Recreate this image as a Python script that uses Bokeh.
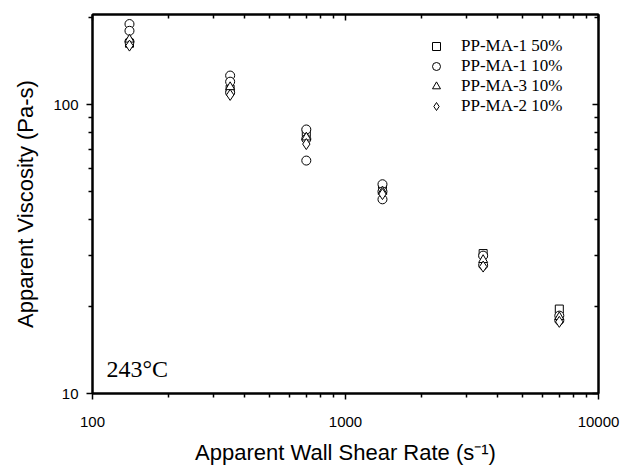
from bokeh.plotting import figure
from bokeh.models import Range1d, FixedTicker, LogAxis, Legend, LegendItem, Label
from bokeh.embed import file_html
from bokeh.resources import INLINE

# ---- data ----
sq_x = [140, 350, 700, 1400, 3500, 7000]
sq_y = [163, 113, 80, 51, 30.5, 19.6]

ci_x = [140, 140, 140, 350, 350, 350, 700, 700, 700, 1400, 1400, 1400, 3500, 3500, 7000, 7000]
ci_y = [190, 180, 165, 126, 120, 110, 82, 76, 64, 53, 50, 47, 30, 27.8, 18.6, 17.9]

tr_x = [140, 350, 700, 1400, 3500, 7000]
tr_y = [168, 115, 77, 50, 29, 18.4]

di_x = [140, 350, 700, 1400, 3500, 7000]
di_y = [160, 108, 73, 49, 27.5, 17.7]

labels = ["PP-MA-1 50%", "PP-MA-1 10%", "PP-MA-3 10%", "PP-MA-2 10%"]
x_major = [100, 1000, 10000]
x_minor = [200, 300, 400, 500, 600, 700, 800, 900, 2000, 3000, 4000, 5000, 6000, 7000, 8000, 9000]
y_major = [10, 100]
y_minor = [20, 30, 40, 50, 60, 70, 80, 90, 200]

p = figure(width=624, height=467, x_axis_type="log", y_axis_type="log",
           x_range=Range1d(100, 10000), y_range=Range1d(10, 205),
           output_backend="svg", toolbar_location=None,
           min_border_left=92, min_border_right=26, min_border_top=14, min_border_bottom=73)
p.grid.visible = False
p.outline_line_color = "black"
p.outline_line_width = 2
p.background_fill_color = "white"
p.border_fill_color = "white"

def style_axis(ax, ticks, minor, show_labels=True, inward=False, standoff=8):
    ax.ticker = FixedTicker(ticks=ticks, minor_ticks=minor)
    ax.axis_line_color = "black"
    ax.axis_line_width = 2
    ax.major_tick_line_width = 1.5
    ax.minor_tick_line_width = 1.5
    if inward:
        ax.major_tick_in = 6
        ax.major_tick_out = 0
        ax.minor_tick_in = 4
        ax.minor_tick_out = 0
    else:
        ax.major_tick_in = 0
        ax.major_tick_out = 6
        ax.minor_tick_in = 0
        ax.minor_tick_out = 4
    if show_labels:
        ax.major_label_overrides = {t: str(t) for t in ticks}
        ax.major_label_text_font = "Liberation Sans"
        ax.major_label_text_font_size = "15px"
        ax.major_label_text_color = "black"
        ax.major_label_standoff = standoff
    else:
        ax.major_label_text_font_size = "4px"
        ax.major_label_text_alpha = 0
        ax.major_label_standoff = 0

xa = p.xaxis[0]
ya = p.yaxis[0]
style_axis(xa, x_major, x_minor, standoff=17)
style_axis(ya, y_major, y_minor, standoff=8)
xa.axis_label = "Apparent Wall Shear Rate (s\u207b\u00b9)"
ya.axis_label = "Apparent Viscosity (Pa-s)"
for ax in (xa, ya):
    ax.axis_label_text_font = "Liberation Sans"
    ax.axis_label_text_font_size = "22px"
    ax.axis_label_text_font_style = "normal"
    ax.axis_label_text_color = "black"
xa.axis_label_standoff = 10
ya.axis_label_standoff = 12

top = LogAxis()
style_axis(top, x_major, x_minor, show_labels=False, inward=True)
p.add_layout(top, "above")
right = LogAxis()
style_axis(right, y_major, y_minor, show_labels=False, inward=True)
p.add_layout(right, "right")

ms = 9
r1 = p.scatter(sq_x, sq_y, marker="square", size=ms - 1, fill_color="white", line_color="black", line_width=1)
r2 = p.scatter(ci_x, ci_y, marker="circle", size=ms, fill_color="white", line_color="black", line_width=1)
r3 = p.scatter(tr_x, tr_y, marker="triangle", size=ms, fill_color="white", line_color="black", line_width=1)
r4 = p.scatter(di_x, di_y, marker="diamond", size=ms + 2, fill_color="white", line_color="black", line_width=1)

legend = Legend(items=[LegendItem(label=labels[0], renderers=[r1]),
                       LegendItem(label=labels[1], renderers=[r2]),
                       LegendItem(label=labels[2], renderers=[r3]),
                       LegendItem(label=labels[3], renderers=[r4])],
                location=(334, 277))
legend.border_line_color = None
legend.background_fill_alpha = 0
legend.label_text_font = "Liberation Serif"
legend.label_text_font_size = "17px"
legend.label_text_color = "black"
legend.spacing = 0
legend.label_height = 20
legend.glyph_height = 20
legend.glyph_width = 20
legend.label_standoff = 15
legend.margin = 0
legend.padding = 4
p.add_layout(legend)

p.add_layout(Label(x=113.6, y=11.0, text="243\u00b0C", text_font="Liberation Serif",
                   text_font_size="24px", text_color="black"))

open("out.html", "w").write(file_html(p, INLINE))
